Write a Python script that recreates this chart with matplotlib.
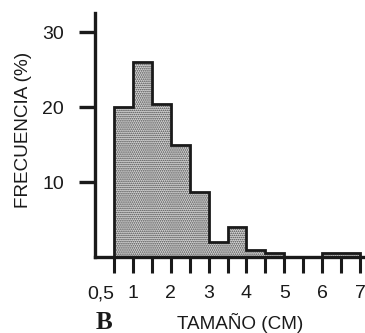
import matplotlib
matplotlib.use("Agg")
import matplotlib.pyplot as plt

# Size-class histogram: bin edges (cm) and frequency (%) per bin
bin_edges = [0.5, 1.0, 1.5, 2.0, 2.5, 3.0, 3.5, 4.0, 4.5, 5.0, 5.5, 6.0, 6.5, 7.0]
frecuencia = [20, 26, 20.5, 15, 8.7, 2, 4, 1, 0.5, 0, 0, 0.5, 0.5]

x_ticks = [0.5, 1, 1.5, 2, 2.5, 3, 3.5, 4, 4.5, 5, 5.5, 6, 6.5, 7]
x_tick_labels = ["0,5", "1", "", "2", "", "3", "", "4", "", "5", "", "6", "", "7"]
y_ticks = [10, 20, 30]
y_tick_labels = ["10", "20", "30"]

ink = "#1a1a1a"
plt.rcParams["font.family"] = ["Liberation Sans", "DejaVu Sans"]
plt.rcParams["hatch.linewidth"] = 0.8

fig = plt.figure(figsize=(3.65, 3.33), dpi=100)
ax = fig.add_axes([95 / 365, 76 / 333, 270 / 365, 244 / 333])

# stippled fill
ax.stairs(frecuencia, bin_edges, fill=True, facecolor="#d8d8d8",
          hatch="........", edgecolor="#444444", linewidth=0, zorder=1)
# outline of the histogram
ax.stairs(frecuencia, bin_edges, fill=False, baseline=0, color=ink,
          linewidth=2.0, zorder=2)

ax.set_xlim(0.0, 7.13)
ax.set_ylim(0, 32.6)

for side in ("top", "right"):
    ax.spines[side].set_visible(False)
for side in ("left", "bottom"):
    ax.spines[side].set_linewidth(2.4)
    ax.spines[side].set_color(ink)

ax.set_xticks(x_ticks)
ax.set_xticklabels(x_tick_labels)
ax.set_yticks(y_ticks)
ax.set_yticklabels(y_tick_labels)
ax.tick_params(axis="x", direction="out", length=11.5, width=2.2, color=ink,
               labelsize=14, pad=9, labelcolor=ink)
ax.tick_params(axis="y", direction="out", length=11.5, width=2.4, color=ink,
               labelsize=14, pad=11, labelcolor=ink)
ax.get_xticklabels()[0].set_horizontalalignment("right")

fig.text(24 / 365, 1 - 130 / 333, "FRECUENCIA (%)", rotation=90,
         ha="center", va="center", fontsize=13.6, color=ink)
fig.text(240 / 365, 1 - 323 / 333, "TAMAÑO (CM)", ha="center", va="center",
         fontsize=13.6, color=ink)
fig.text(96 / 365, 1 - 311 / 333, "B", ha="left", va="top",
         fontsize=18, fontweight="bold", family=["Liberation Serif"], color=ink)

fig.savefig("out.png", dpi=100)
